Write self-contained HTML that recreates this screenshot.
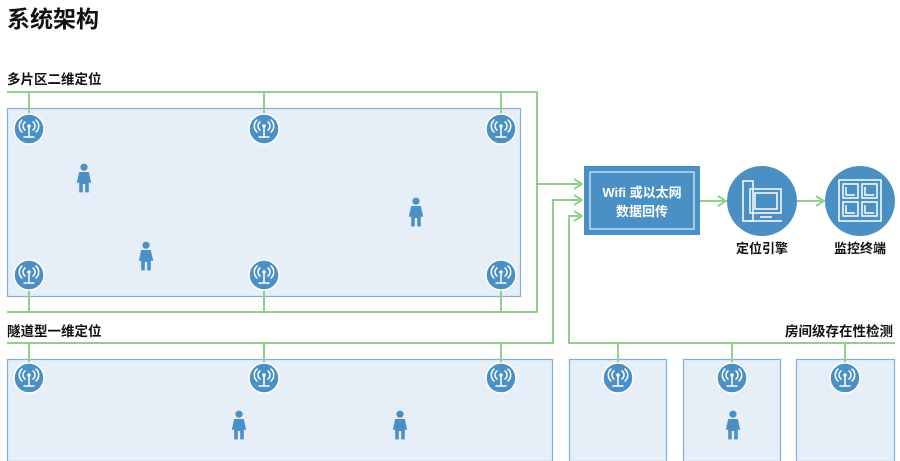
<!DOCTYPE html>
<html><head><meta charset="utf-8"><style>
body{margin:0;background:#fff}
svg{display:block}
text{font-family:"Liberation Sans","Noto Sans CJK SC",sans-serif;font-weight:bold;fill:#111}
</style></head><body>
<svg width="900" height="461" viewBox="0 0 900 461" xmlns="http://www.w3.org/2000/svg">
<defs>
<g id="ant">
<circle r="15" fill="#4a90c4" stroke="#fff" stroke-width="1.5"/>
<g fill="none" stroke="#fff" stroke-width="1.5" stroke-linecap="round">
<path d="M-4,-7 A5,5 0 0 0 -4,1"/><path d="M4,-7 A5,5 0 0 1 4,1"/>
<path d="M-7,-9 A8,8 0 0 0 -7,3"/><path d="M7,-9 A8,8 0 0 1 7,3"/>
<line x1="0" y1="-3" x2="0" y2="8"/><line x1="-5" y1="8" x2="5" y2="8"/>
</g><circle cy="-3" r="1.8" fill="#fff"/>
</g>
<g id="per" fill="#4a90c4" transform="scale(1.2)">
<circle cy="-9" r="3"/>
<path d="M-4,-5 H4 L6,4 H4 V12 H1 V5 H-1 V12 H-4 V4 H-6 Z"/>
</g>
<marker id="ar" markerWidth="10" markerHeight="12" refX="9" refY="6" orient="auto" markerUnits="userSpaceOnUse">
<path d="M1,1 L9,6 L1,11" fill="none" stroke="#8fd18a" stroke-width="2"/>
</marker>
</defs>
<text x="7" y="27" font-size="23">系统架构</text>
<text x="7" y="84" font-size="13.5">多片区二维定位</text>
<text x="7" y="336" font-size="13.5">隧道型一维定位</text>
<text x="893" y="336" font-size="13.5" text-anchor="end">房间级存在性检测</text>

<g fill="#e6eff7" stroke="#7fb0d8" stroke-width="1.2">
<rect x="7.5" y="108.5" width="513" height="188"/>
<rect x="7.5" y="359.5" width="545" height="102"/>
<rect x="569.5" y="359.5" width="97" height="102"/>
<rect x="683.5" y="359.5" width="97" height="102"/>
<rect x="796.5" y="359.5" width="98" height="102"/>
</g>

<g fill="none" stroke="#8fd18a" stroke-width="2">
<polyline points="7,92 537,92 537,312 7,312"/>
<line x1="29" y1="92" x2="29" y2="115"/><line x1="264" y1="92" x2="264" y2="115"/><line x1="501" y1="92" x2="501" y2="115"/>
<line x1="29" y1="289" x2="29" y2="312"/><line x1="264" y1="289" x2="264" y2="312"/><line x1="501" y1="289" x2="501" y2="312"/>
<line x1="537" y1="184" x2="582" y2="184" marker-end="url(#ar)"/>
<polyline points="7,343 553,343 553,200 582,200" marker-end="url(#ar)"/>
<line x1="29" y1="343" x2="29" y2="365"/><line x1="264" y1="343" x2="264" y2="365"/><line x1="501" y1="343" x2="501" y2="365"/>
<polyline points="895,343 569,343 569,216 582,216" marker-end="url(#ar)"/>
<line x1="618" y1="343" x2="618" y2="365"/><line x1="732" y1="343" x2="732" y2="365"/><line x1="845" y1="343" x2="845" y2="365"/>
<line x1="700" y1="201" x2="726" y2="201" marker-end="url(#ar)"/>
<line x1="797" y1="201" x2="824" y2="201" marker-end="url(#ar)"/>
</g>

<use href="#ant" x="29" y="129"/><use href="#ant" x="264" y="129"/><use href="#ant" x="501" y="129"/>
<use href="#ant" x="29" y="275"/><use href="#ant" x="264" y="275"/><use href="#ant" x="501" y="275"/>
<use href="#ant" x="29" y="378"/><use href="#ant" x="264" y="378"/><use href="#ant" x="501" y="378"/>
<use href="#ant" x="618" y="378"/><use href="#ant" x="732" y="378"/><use href="#ant" x="845" y="378"/>

<use href="#per" x="84" y="178"/><use href="#per" x="146" y="256"/><use href="#per" x="416" y="212"/>
<use href="#per" x="239" y="425"/><use href="#per" x="400" y="425"/><use href="#per" x="733" y="425"/>

<rect x="584" y="166" width="116" height="69" fill="#4a90c4"/>
<rect x="590" y="172" width="104" height="57" fill="none" stroke="#fff" stroke-width="1"/>
<text x="642" y="197" font-size="13" text-anchor="middle" style="fill:#fff">Wifi 或以太网</text>
<text x="642" y="216" font-size="13" text-anchor="middle" style="fill:#fff">数据回传</text>

<circle cx="762" cy="201" r="35" fill="#4a90c4"/>
<g fill="none" stroke="#fff" stroke-width="1.5">
<rect x="743" y="181" width="10" height="40"/>
<rect x="750" y="189" width="31" height="24"/>
<rect x="755" y="193" width="22" height="16"/>
<line x1="760" y1="217" x2="772" y2="217"/>
<line x1="750" y1="221" x2="782" y2="221"/>
</g>
<circle cx="860" cy="201" r="35" fill="#4a90c4"/>
<g fill="none" stroke="#fff" stroke-width="1.5">
<rect x="839" y="180" width="42" height="41"/>
<rect x="843" y="184" width="15" height="14"/><rect x="862" y="184" width="15" height="14"/>
<rect x="843" y="202" width="15" height="14"/><rect x="862" y="202" width="15" height="14"/>
<path d="M846,187 V195 H855 M865,187 V195 H874 M846,205 V213 H855 M865,205 V213 H874"/>
</g>
<text x="762" y="253" font-size="13" text-anchor="middle">定位引擎</text>
<text x="860" y="253" font-size="13" text-anchor="middle">监控终端</text>
</svg>
</body></html>
